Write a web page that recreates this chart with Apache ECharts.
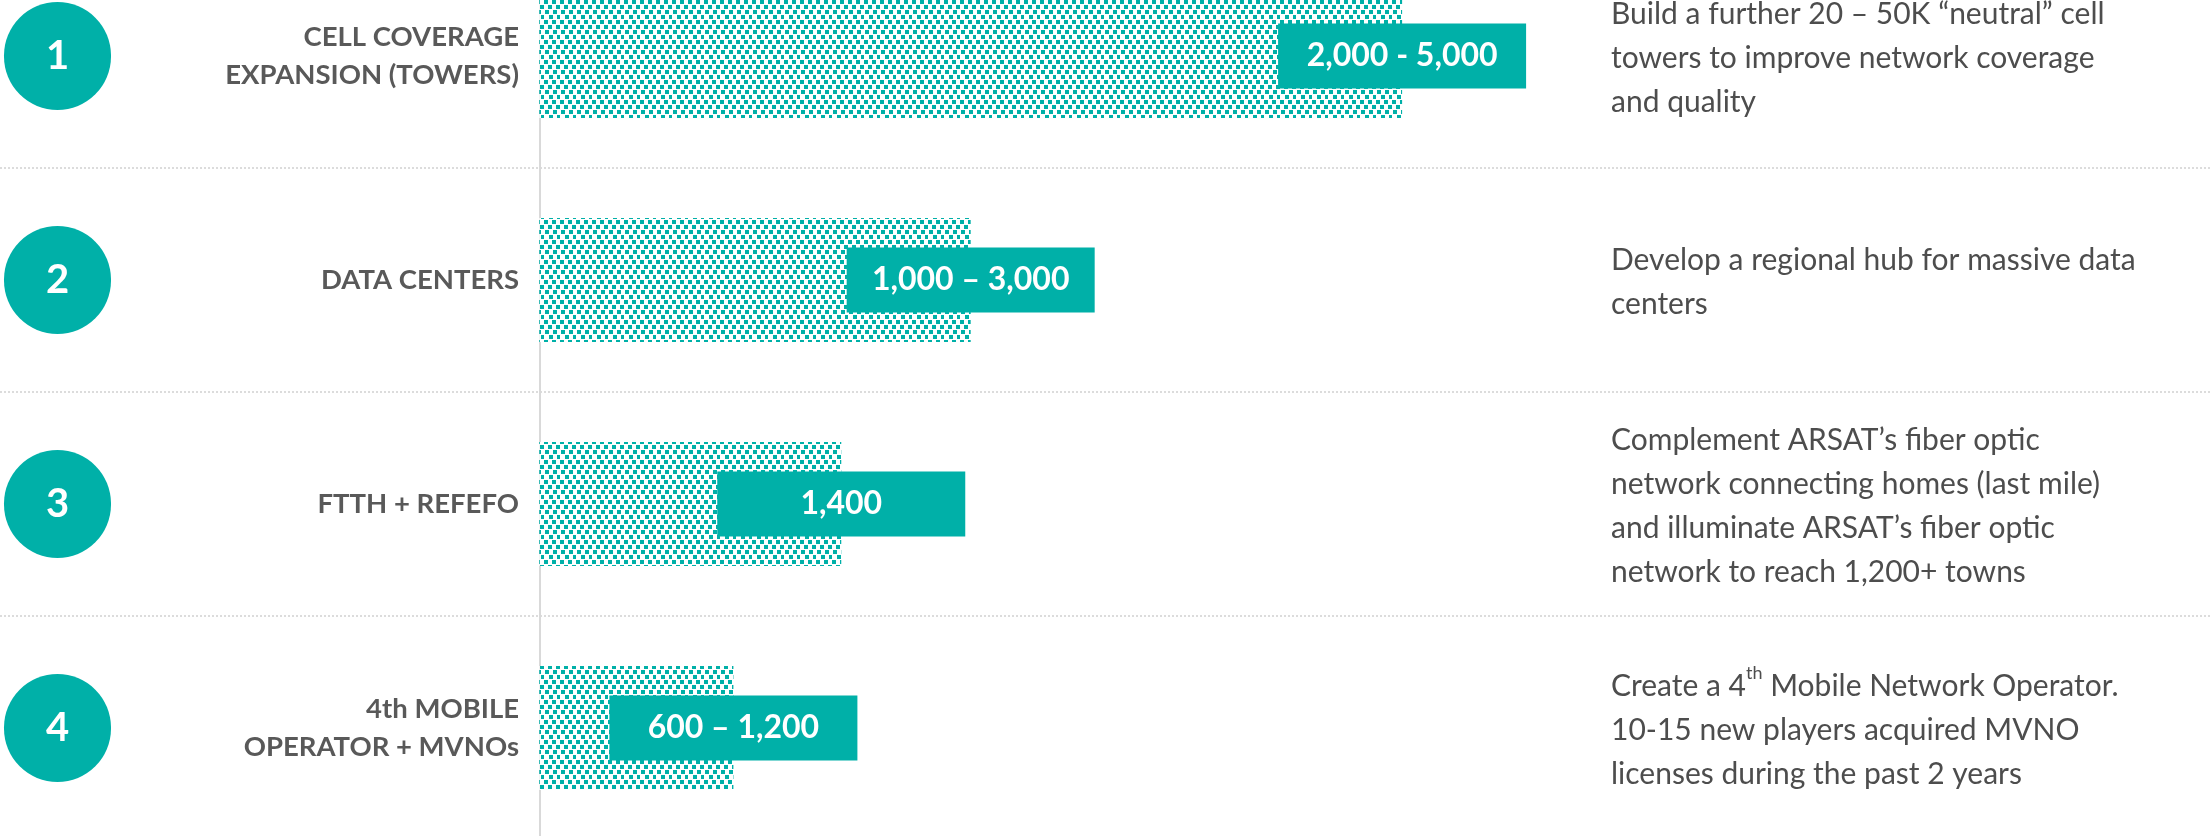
<!DOCTYPE html>
<html><head><meta charset="utf-8">
<script src="https://cdn.jsdelivr.net/npm/echarts@6/dist/echarts.min.js"></script>
<style>html,body{margin:0;padding:0;background:#fff}#c{width:2211px;height:836px}</style>
</head><body><div id="c"></div>
<script>
// ---- data ----
const categories = ['CELL COVERAGE\nEXPANSION (TOWERS)', 'DATA CENTERS', 'FTTH + REFEFO', '4th MOBILE\nOPERATOR + MVNOs'];
const rowNumbers = ['1', '2', '3', '4'];
const barValues = [4000, 2000, 1400, 900];
const rangeLabels = ['2,000 - 5,000', '1,000 \u2013 3,000', '1,400', '600 \u2013 1,200'];
const descriptions = [
  'Build a further 20 \u2013 50K \u201cneutral\u201d cell\ntowers to improve network coverage\nand quality',
  'Develop a regional hub for massive data\ncenters',
  'Complement ARSAT\u2019s fiber optic\nnetwork connecting homes (last mile)\nand illuminate ARSAT\u2019s fiber optic\nnetwork to reach 1,200+ towns',
  'Create a 4th Mobile Network Operator.\n10-15 new players acquired MVNO\nlicenses during the past 2 years'
];

// ---- styles ----
const TEAL = '#00B0A8';
const FONT = 'Lato, "Open Sans", sans-serif';

function makePattern() {
  const c = document.createElement('canvas');
  c.width = 16; c.height = 20;
  const g = c.getContext('2d');
  g.fillStyle = '#ffffff';
  g.fillRect(0, 0, 16, 20);
  g.fillStyle = TEAL;
  [[0,0],[8,0],[4,5],[12,5],[1,10],[9,10],[5,15],[13,15]].forEach(p => g.fillRect(p[0], p[1], 4, 4));
  return c;
}

const hidden = {axisLine: {show: false, onZero: false}, axisTick: {show: false}, splitLine: {show: false}};

const chart = echarts.init(document.getElementById('c'), null, {renderer: 'canvas'});
chart.setOption({
  animation: false,
  backgroundColor: '#ffffff',
  grid: {left: 0, right: 0, top: -56, bottom: -4, containLabel: false, outerBoundsMode: 'none'},
  xAxis: {type: 'value', min: -2500, max: 7750, show: false},
  yAxis: [
    {
      type: 'category', inverse: true, data: categories,
      axisLine: {show: true, onZero: true, lineStyle: {color: '#d9d9d9', width: 2}},
      axisTick: {show: false},
      splitLine: {show: true, lineStyle: {color: '#dcdcdc', width: 2, type: [2, 2]}},
      axisLabel: {show: false}
    },
    Object.assign({
      type: 'category', inverse: true, data: categories, position: 'left', offset: -540,
      axisLabel: {
        interval: 0, margin: 21, align: 'right',
        formatter: v => v.split('\n').map(l => '{c|' + l + '}').join('\n'),
        rich: {c: {fontFamily: FONT, fontWeight: 'bold', fontSize: 27.5, color: '#595959', lineHeight: 38, align: 'right'}}
      }
    }, hidden),
    Object.assign({
      type: 'category', inverse: true, data: rowNumbers, position: 'left', offset: 0,
      axisLabel: {
        interval: 0, inside: true, margin: 4,
        formatter: v => '{n|' + v + '}',
        rich: {n: {backgroundColor: TEAL, width: 107, height: 108, lineHeight: 108, borderRadius: 54,
                   align: 'center', color: '#ffffff', fontFamily: FONT, fontWeight: 'bold', fontSize: 40}}
      }
    }, hidden),
    Object.assign({
      type: 'category', inverse: true, data: descriptions, position: 'left', offset: -1611,
      axisLabel: {
        interval: 0, inside: true, margin: 0, align: 'left', padding: [4, 0, 0, 0],
        formatter: v => v.split('\n').map(l => {
          const m = l.match(/^(.*?\d)(th)( .*)$/);
          if (m) return '{d|' + m[1] + '}{s|' + m[2] + '}{d|' + m[3] + '}';
          return '{d|' + l + '}';
        }).join('\n'),
        rich: {
          d: {fontFamily: FONT, fontWeight: 'normal', fontSize: 30, color: '#4d4d4d', lineHeight: 44},
          s: {fontFamily: FONT, fontWeight: 'normal', fontSize: 18, color: '#4d4d4d', lineHeight: 24, verticalAlign: 'top'}
        }
      }
    }, hidden)
  ],
  series: [{
    type: 'bar',
    data: barValues,
    barWidth: 124,
    itemStyle: {color: {image: makePattern(), repeat: 'repeat'}},
    label: {
      show: true, position: ['100%', '50%'], align: 'center', verticalAlign: 'middle',
      formatter: p => rangeLabels[p.dataIndex],
      backgroundColor: TEAL, width: 248, height: 65, lineHeight: 65,
      color: '#ffffff', fontFamily: FONT, fontWeight: 'bold', fontSize: 32
    }
  }]
});
</script></body></html>
